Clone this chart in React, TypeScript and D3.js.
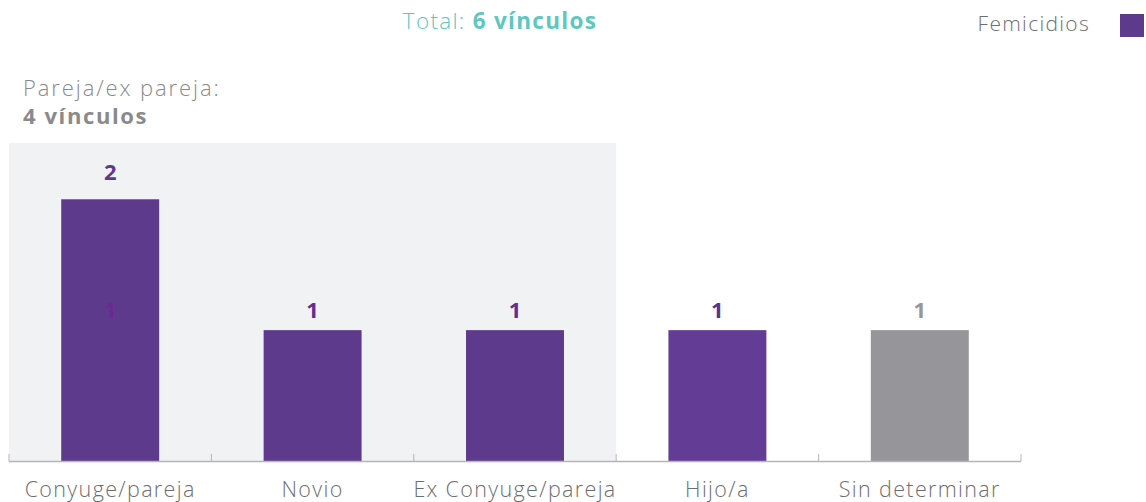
import React from "react";
import * as d3 from "d3";

const categories = ["Conyuge/pareja", "Novio", "Ex Conyuge/pareja", "Hijo/a", "Sin determinar"];
const values = [2, 1, 1, 1, 1];
const overlayLabels = [1, null, null, null, null];
const barColors = ["#5e3a8c", "#5e3a8c", "#5e3a8c", "#633c95", "#96969a"];
const labelColors = ["#5e3a8c", "#612f8f", "#612f8f", "#612f8f", "#96969a"];
const groupCount = 3;

const W = 1146;
const H = 502;
const FONT = "'Open Sans', 'Noto Sans', sans-serif";

export default function App() {
  const pi = 0.516;
  const x = d3
    .scaleBand<string>()
    .domain(categories)
    .range([9, 1021])
    .paddingInner(pi)
    .paddingOuter(pi / 2);
  const y = d3.scaleLinear().domain([0, 2.43]).range([461, 143]);
  const yLabel = d3.scaleLinear().domain([0, 2.43]).range([456, 456 - 138 * 2.43]);
  const step = x.step();
  const r0 = x.range()[0];
  const bounds = d3.range(categories.length + 1).map((i) => r0 + i * step);

  return (
    <div style={{ position: "absolute", left: 0, top: 0 }}>
      <svg width={W} height={H} style={{ display: "block" }}>
        <rect x={0} y={0} width={W} height={H} fill="#ffffff" />
        <rect
          x={bounds[0]}
          y={y(2.43)}
          width={bounds[groupCount] - bounds[0]}
          height={y(0) - y(2.43)}
          fill="#f1f2f4"
        />
        <text x={500} y={29} textAnchor="middle" fontFamily={FONT} fontSize={22.5} letterSpacing={1.3} fill="#5ec7bf">
          <tspan fontWeight={350}>Total: </tspan>
          <tspan fontWeight={700}>6 vínculos</tspan>
        </text>
        <text x={1090} y={31} textAnchor="end" fontFamily={FONT} fontSize={21} fontWeight={350} letterSpacing={1.3} fill="#6d6e71">
          Femicidios
        </text>
        <rect x={1120} y={14} width={24} height={23} fill="#5e3a8c" />
        <text x={23} y={96} fontFamily={FONT} fontSize={22} fontWeight={350} letterSpacing={1.9} fill="#8a8a8d">
          Pareja/ex pareja:
        </text>
        <text x={23} y={124} fontFamily={FONT} fontSize={22} fontWeight={700} letterSpacing={1.6} fill="#8a8a8d">
          4 vínculos
        </text>
        {categories.map((c, i) => (
          <rect
            key={c}
            x={x(c)}
            y={y(values[i])}
            width={x.bandwidth()}
            height={y(0) - y(values[i])}
            fill={barColors[i]}
          />
        ))}
        {categories.map((c, i) => (
          <text
            key={c}
            x={(x(c) as number) + x.bandwidth() / 2}
            y={yLabel(values[i])}
            textAnchor="middle"
            fontFamily={FONT}
            fontSize={22}
            fontWeight={700}
            fill={labelColors[i]}
          >
            {values[i]}
          </text>
        ))}
        {categories.map((c, i) =>
          overlayLabels[i] == null ? null : (
            <text
              key={"o" + c}
              x={(x(c) as number) + x.bandwidth() / 2}
              y={yLabel(overlayLabels[i] as number)}
              textAnchor="middle"
              fontFamily={FONT}
              fontSize={22}
              fontWeight={700}
              fill="#6a2a8f"
            >
              {overlayLabels[i]}
            </text>
          )
        )}
        <line x1={bounds[0]} x2={bounds[bounds.length - 1]} y1={y(0) + 0.5} y2={y(0) + 0.5} stroke="#b5b5b8" strokeWidth={1.5} />
        {bounds.map((b, i) => (
          <line key={i} x1={b} x2={b} y1={y(0) - 7} y2={y(0) + 0.5} stroke="#b5b5b8" strokeWidth={1} />
        ))}
        {categories.map((c) => (
          <text
            key={"l" + c}
            x={(x(c) as number) + x.bandwidth() / 2}
            y={497}
            textAnchor="middle"
            fontFamily={FONT}
            fontSize={21.5}
            fontWeight={350}
            letterSpacing={1.35}
            fill="#6d6e71"
          >
            {c}
          </text>
        ))}
      </svg>
    </div>
  );
}
